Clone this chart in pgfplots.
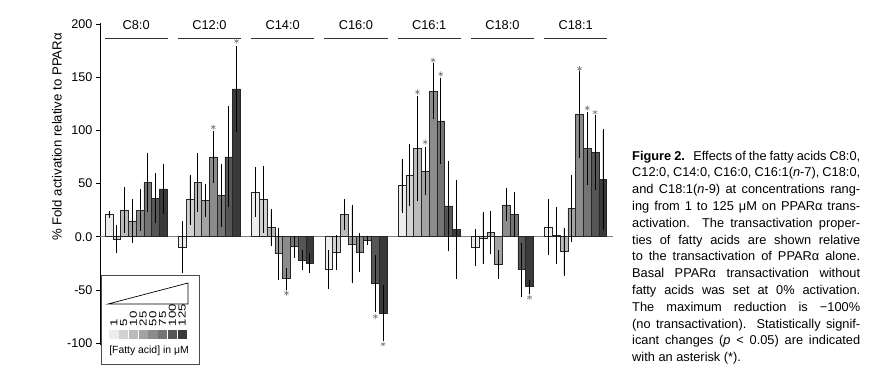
\documentclass[border=0pt]{standalone}
\usepackage{pgfplots}
\pgfplotsset{compat=1.18}
\usepackage{pgfplotstable}
\usepackage{graphicx}
\usepackage{fontspec}
\setmainfont{Liberation Sans}

\definecolor{c0}{HTML}{EDEDED}
\definecolor{c1}{HTML}{D2D2D2}
\definecolor{c2}{HTML}{BBBBBB}
\definecolor{c3}{HTML}{A3A3A3}
\definecolor{c4}{HTML}{8C8C8C}
\definecolor{c5}{HTML}{747474}
\definecolor{c6}{HTML}{565656}
\definecolor{c7}{HTML}{3A3A3A}

% group g (C8:0 ... C18:1), v = value, e = error, columns 0..7 = 1,5,10,25,50,75,100,125 uM
\pgfplotstableread{
g v0 v1 v2 v3 v4 v5 v6 v7 e0 e1 e2 e3 e4 e5 e6 e7
0 21 -2 25 15 25 51 36 45 2 12 20 19 18 26 22 22
1 -10 35 51 34 75 39 75 139 23 22 26 14 23 28 46 39
2 42 35 8.5 -16 -39.5 -9.4 -22 -25 22 30 16 23 9 9 8 8
3 -31 -15 21 -7 -15 -3.4 -44 -72 17 15 13 35 17 3 25 25
4 48 58 83 62 137 109 29 7 24 28 48 21 25 39 41 45
5 -10 -1.5 4 -26 30 21 -31 -47 16 23 19 12 14 20 24 5
6 9 1 -14 27 115 83 79 54 25 25 21 30 39 33 34 46
}\data

\pgfplotstableread{
g j y
1 4 103
1 7 184
2 4 -53
3 6 -75
3 7 -101
4 2 136
4 3 89
4 4 166
4 5 153
5 7 -57
6 4 158
6 5 121
6 6 117
}\stars

\begin{document}
\begin{tikzpicture}
\begin{axis}[
  at={(100pt,35.8pt)}, anchor=south west,
  scale only axis, width=512.7pt, height=322.2pt,
  xmin=-1.15, xmax=64.85, ymin=-102, ymax=201,
  axis x line=none, axis y line=left,
  y axis line style={-, line width=0.8pt, black},
  xtick=\empty,
  ytick={-100,-50,0,50,100,150,200},
  yticklabels={-100,-50,0.0,50,100,150,200},
  tick align=outside, major tick length=4pt,
  tick style={line width=0.8pt, black},
  yticklabel style={font=\fontsize{12.6}{14}\selectfont},
  clip=false,
]
\draw[line width=0.9pt, color=gray] (axis cs:-1.15,0) -- (axis cs:64.85,0);
\pgfplotsinvokeforeach{0,...,7}{
  \addplot[ybar, bar width=1, bar shift=0pt, fill=c#1, draw=black!85, line width=0.55pt,
    error bars/.cd, y dir=both, y explicit,
    error bar style={black, line width=0.65pt},
    error mark options={black, mark size=1.6pt, line width=0.65pt}]
    table[x expr=\thisrow{g}*9.43+#1, y=v#1, y error=e#1]{\data};
}
\addplot[only marks, mark=asterisk, mark size=2.6pt, color=gray, mark options={line width=0.6pt}]
  table[x expr=\thisrow{g}*9.43+\thisrow{j}, y=y]{\stars};

% group brackets and names
\draw[line width=0.7pt, black!80] (axis cs:-0.5,187) ++(0pt,-1.5pt) -- ++(0pt,1.5pt) -- (axis cs:7.5,187) -- ++(0pt,-1.5pt);
\draw[line width=0.7pt, black!80] (axis cs:8.93,187) ++(0pt,-1.5pt) -- ++(0pt,1.5pt) -- (axis cs:16.93,187) -- ++(0pt,-1.5pt);
\draw[line width=0.7pt, black!80] (axis cs:18.36,187) ++(0pt,-1.5pt) -- ++(0pt,1.5pt) -- (axis cs:26.36,187) -- ++(0pt,-1.5pt);
\draw[line width=0.7pt, black!80] (axis cs:27.79,187) ++(0pt,-1.5pt) -- ++(0pt,1.5pt) -- (axis cs:35.79,187) -- ++(0pt,-1.5pt);
\draw[line width=0.7pt, black!80] (axis cs:37.22,187) ++(0pt,-1.5pt) -- ++(0pt,1.5pt) -- (axis cs:45.22,187) -- ++(0pt,-1.5pt);
\draw[line width=0.7pt, black!80] (axis cs:46.65,187) ++(0pt,-1.5pt) -- ++(0pt,1.5pt) -- (axis cs:54.65,187) -- ++(0pt,-1.5pt);
\draw[line width=0.7pt, black!80] (axis cs:56.08,187) ++(0pt,-1.5pt) -- ++(0pt,1.5pt) -- (axis cs:64.08,187) -- ++(0pt,-1.5pt);
\node[font=\fontsize{12.8}{15}\selectfont] at (axis cs:3.5,199) {C8:0};
\node[font=\fontsize{12.8}{15}\selectfont] at (axis cs:12.93,199) {C12:0};
\node[font=\fontsize{12.8}{15}\selectfont] at (axis cs:22.36,199) {C14:0};
\node[font=\fontsize{12.8}{15}\selectfont] at (axis cs:31.79,199) {C16:0};
\node[font=\fontsize{12.8}{15}\selectfont] at (axis cs:41.22,199) {C16:1};
\node[font=\fontsize{12.8}{15}\selectfont] at (axis cs:50.65,199) {C18:0};
\node[font=\fontsize{12.8}{15}\selectfont] at (axis cs:60.08,199) {C18:1};
\end{axis}

\begin{scope}[x=1pt,y=-1pt,yshift=381pt]
\path (0,0) rectangle (871,381);
\node[rotate=90, font=\fontsize{13.2}{15}\selectfont] at (57,137) {\% Fold activation relative to PPARα};
% legend box
\draw[line width=0.8pt, black!70, fill=white] (101,275) rectangle (199.5,364);
\draw[line width=0.7pt] (108,304) -- (188,283) -- (188,304) -- cycle;
\foreach \k/\t in {0/1,1/5,2/10,3/25,4/50,5/75,6/100,7/125}{
  \node[rotate=90, anchor=west, inner sep=0pt, font=\fontsize{10.2}{11}\selectfont] at (113.9+9.75*\k,326.5) {\scalebox{1.3}[1]{\t}};
  \fill[c\k] (109.4+9.75*\k,330) rectangle (118.6+9.75*\k,339);
}
\node[font=\fontsize{10.4}{12}\selectfont] at (149,351) {[Fatty acid] in μM};
% caption
\begin{scope}[every node/.style={anchor=base west, inner sep=0pt, font=\fontsize{12.8}{16.8}\selectfont}]
\node at (632,160.0) {\makebox[228pt][s]{\textbf{Figure 2.}\hspace{0.3em} Effects of the fatty acids C8:0,}};
\node at (632,176.8) {\makebox[228pt][s]{C12:0, C14:0, C16:0, C16:1(\textit{n}-7), C18:0,}};
\node at (632,193.6) {\makebox[228pt][s]{and C18:1(\textit{n}-9) at concentrations rang-}};
\node at (632,210.4) {\makebox[228pt][s]{ing from 1 to 125 μM on PPARα trans-}};
\node at (632,227.2) {\makebox[228pt][s]{activation. The transactivation proper-}};
\node at (632,244.0) {\makebox[228pt][s]{ties of fatty acids are shown relative}};
\node at (632,260.8) {\makebox[228pt][s]{to the transactivation of PPARα alone.}};
\node at (632,277.6) {\makebox[228pt][s]{Basal PPARα transactivation without}};
\node at (632,294.4) {\makebox[228pt][s]{fatty acids was set at 0\% activation.}};
\node at (632,311.2) {\makebox[228pt][s]{The maximum reduction is −100\%}};
\node at (632,328.0) {\makebox[228pt][s]{(no transactivation). Statistically signif-}};
\node at (632,344.8) {\makebox[228pt][s]{icant changes (\textit{p} < 0.05) are indicated}};
\node at (632,361.6) {with an asterisk (*).};
\end{scope}
\end{scope}
\end{tikzpicture}
\end{document}
